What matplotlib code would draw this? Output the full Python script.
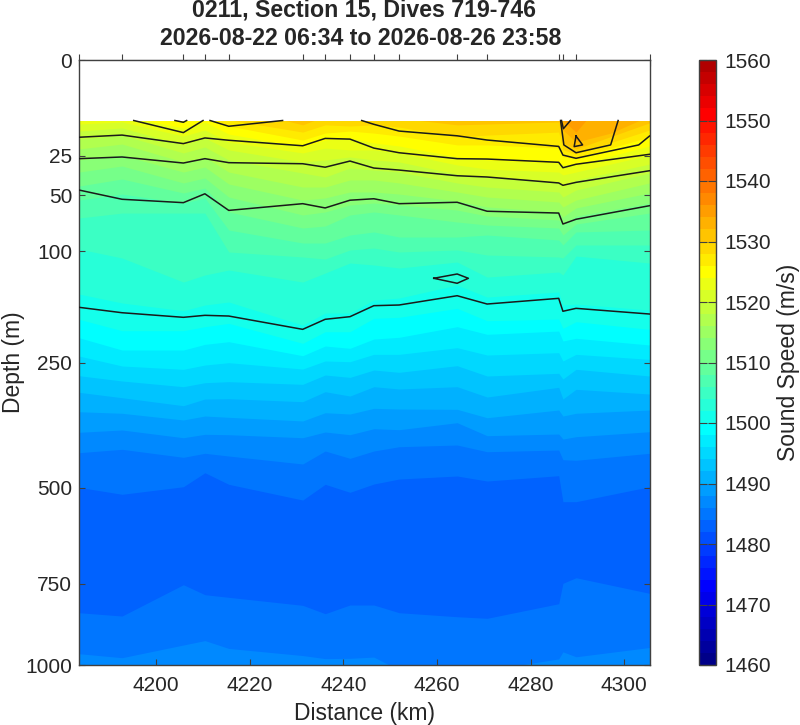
import numpy as np
import matplotlib
matplotlib.use('Agg')
import matplotlib.pyplot as plt
from matplotlib.cm import ScalarMappable
from matplotlib.colors import BoundaryNorm, ListedColormap

plt.rcParams['font.family'] = ['Liberation Sans', 'DejaVu Sans']

# along track position of each dive (km), first and last are the section ends
station_km = [4183.5, 4192.7, 4205.8, 4210.4, 4215.5, 4231.3, 4236.1, 4241.4,
              4246.5, 4251.9, 4264.3, 4270.7, 4286.0, 4286.9, 4289.7, 4305.4]

# depth (m) of each sound speed isoline at every station
iso_1530 = [6.8, 6.8, 6.8, 6.8, 5.8, 11.5, 8.6, 6.8, 6.8, 9.2, 11.5, 11.2, 10.5, 18.8, 21.6, 10.8]
iso_1528 = [6.8, 6.8, 7.4, 8, 9.8, 14.2, 11.5, 11.9, 11.5, 12.3, 16.2, 15.4, 14.2, 22.1, 24.1, 13.4]
iso_1526 = [7.4, 7.4, 8.6, 8.6, 11.9, 17.5, 14.6, 13.8, 14.6, 15.8, 19.7, 19.7, 21.2, 25.7, 26.2, 16.2]
iso_1524 = [8.6, 8.6, 12.6, 10.5, 15, 20.7, 17.5, 16.6, 18.8, 20.2, 25.7, 27.3, 29, 30.1, 30.1, 20.2]
iso_1522 = [11.2, 10.5, 15.8, 13.4, 18.4, 23.6, 21.2, 22.1, 22.1, 23.6, 30.1, 32.5, 34.3, 36.1, 34.3, 24.7]
iso_1520 = [13.8, 12.6, 19.7, 16.6, 22.1, 28.4, 27.3, 25.7, 27.3, 28.4, 35.5, 37.4, 40.7, 44.1, 39.3, 29.6]
iso_1518 = [17.1, 15.4, 23.6, 20.7, 27.3, 34.9, 37.4, 31.9, 33.1, 34.3, 41.3, 44.1, 47.6, 51.3, 46.2, 34.9]
iso_1516 = [21.6, 19.3, 28.4, 25.7, 34.3, 44.1, 44.1, 39.3, 39.3, 41.3, 47.6, 51.3, 55.1, 59, 53.6, 41.3]
iso_1514 = [27.3, 24.7, 34.3, 31.3, 42, 53.6, 52, 47.6, 47.6, 49.1, 54.3, 59, 63.1, 67.3, 59.8, 48.3]
iso_1512 = [34.3, 30.7, 41.3, 38, 51.3, 65.6, 63.1, 57.4, 55.9, 57.4, 61.5, 66.5, 69.9, 74.4, 66.5, 55.9]
iso_1510 = [43.4, 38.7, 48.3, 44.8, 63.1, 77.1, 75.3, 65.6, 63.1, 65.6, 71.7, 74.4, 77.1, 83.7, 73.5, 64]
iso_1508 = [53.6, 49.1, 55.9, 52, 79, 91.5, 91.5, 83.7, 80.8, 85.6, 85.6, 83.7, 88.5, 93.5, 80.8, 79]
iso_1506 = [68.2, 64, 64, 64, 100.7, 106, 108.2, 98.6, 96.6, 100.7, 98.6, 103.9, 106, 107.1, 93.5, 93.5]
iso_1504 = [97.6, 107.1, 134.7, 126.3, 120.5, 134.7, 124, 112.6, 114.8, 118.2, 111.5, 128.7, 122.8, 126.3, 105, 112.6]
iso_1502 = [149.6, 161.3, 171.7, 164, 160, 191.9, 174.9, 174.9, 157.4, 154.8, 138.3, 153.5, 147, 164, 162.7, 170.8]
iso_1500 = [183.7, 200.2, 200.2, 194.3, 189.5, 219.3, 201.7, 201.7, 182.3, 180.9, 168.5, 185.7, 183.3, 196.7, 187.1, 198.2]
iso_1498 = [210.7, 229.8, 229.8, 220.9, 216.8, 238.9, 223.5, 227.1, 212.7, 210.1, 194.3, 205.6, 200.7, 215.7, 211.6, 221.9]
iso_1496 = [239.4, 255.8, 261.4, 254.2, 250.3, 260.9, 247.5, 248.7, 236.7, 236.7, 226.1, 237.8, 234, 247.5, 236.7, 244.8]
iso_1494 = [272.3, 281.5, 291.6, 284.5, 282.7, 287.4, 271.1, 275.2, 262.6, 266.5, 255.3, 272.8, 268.2, 278, 261.4, 272.8]
iso_1492 = [301.7, 311.6, 326.5, 314, 313.4, 319, 300.6, 308.5, 291.6, 295.7, 291.6, 310.3, 292.7, 314, 296.3, 304.8]
iso_1490 = [338, 341, 354, 346.3, 348.8, 356, 339.9, 342.4, 331.5, 332.8, 333.4, 349.6, 334.7, 346.3, 341, 334.7]
iso_1488 = [378.7, 374, 389.8, 382.8, 383.6, 389.8, 378.1, 383.6, 371.4, 373.4, 359.4, 385.6, 382.2, 392.5, 387.7, 377.5]
iso_1486 = [421.3, 414.1, 431.3, 422.6, 428.5, 445.9, 417.7, 433.5, 417.7, 408.6, 405, 419.2, 415.6, 436.5, 437.8, 422.6]
iso_1484 = [498.9, 515.3, 497.5, 465.4, 491.9, 529, 491.9, 510.6, 491.2, 479.7, 472.8, 484.3, 472.1, 533, 533, 497.5]

# speed rises again near the bottom
deep_1484 = [834.6, 844.7, 752.2, 781.1, 788.8, 812.5, 837.6, 811.5, 811.5, 834.6, 846.8, 851.6, 807.7, 748.2, 732.3, 777.1]
deep_1486 = [963, 976, 935, 921, 946, 969, 979, 978, 974, 1017, 1017, 1017, 980, 957, 973, 943]

# warm pocket at the surface near 4290 km
pocket_1532_km = [4286.0, 4286.9, 4289.7, 4297.1, 4303.2]
pocket_1532 = [10, 13.4, 18.4, 14.6, 10]
pocket_1534_km = [4286.9, 4289.7, 4291.8]
pocket_1534 = [10, 14.2, 10]

# black contour lines
line_a = [167.1, 174.5, 180.9, 178.1, 179.1, 198.2, 183.7, 180, 164.9, 164, 151.8, 162.7, 155.2, 172.5, 168.5, 176.3]
line_b = [46.2, 53, 55.6, 48.9, 61.8, 56.4, 59.8, 53.7, 52.6, 56.4, 55.3, 62.5, 64, 73.5, 69.3, 58]
line_c = [26.6, 25.7, 29, 26.6, 28.8, 29.4, 31.4, 27.9, 31.9, 33.1, 36.6, 37.4, 41.3, 42.9, 40.9, 33.5]
line_d = [16.3, 15.4, 19.1, 16.6, 17.6, 20.1, 16.8, 17.1, 21.2, 23.5, 26.6, 26.8, 28.6, 31.7, 29.7, 24.3]
short_lines = [
    ([4195.2, 4205.8, 4210.0], [10, 14.4, 10]),
    ([4211.5, 4215.5, 4227.0], [10, 12, 10]),
    ([4204.0, 4205.8, 4206.5], [10, 10.6, 10]),
    ([4243.9, 4246.5, 4251.9, 4264.3, 4270.7, 4286.0, 4286.9, 4289.7, 4303.1, 4305.4],
     [10, 11.3, 13.8, 15.7, 17.5, 20.4, 24.7, 26.4, 19.7, 15.8]),
    ([4286.4, 4287.1, 4289.7, 4297.1, 4298.7], [10, 19.7, 23.5, 19.7, 10]),
    ([4286.6, 4287.0, 4288.5], [10, 12.9, 10]),
    ([4289.7, 4291.1, 4289.3, 4289.7], [15.8, 19.7, 20.5, 15.8]),
    ([4259.3, 4264.3, 4266.7, 4264.3, 4259.3], [130.2, 125.1, 130.2, 136.2, 130.2]),
]

iso_levels = [1530, 1528, 1526, 1524, 1522, 1520, 1518, 1516, 1514, 1512, 1510, 1508,
              1506, 1504, 1502, 1500, 1498, 1496, 1494, 1492, 1490, 1488, 1486, 1484]
iso_depths = [iso_1530, iso_1528, iso_1526, iso_1524, iso_1522, iso_1520, iso_1518, iso_1516,
              iso_1514, iso_1512, iso_1510, iso_1508, iso_1506, iso_1504, iso_1502, iso_1500,
              iso_1498, iso_1496, iso_1494, iso_1492, iso_1490, iso_1488, iso_1486, iso_1484]

depth_ticks = [0, 25, 50, 100, 250, 500, 750, 1000]
km_ticks = [4200, 4220, 4240, 4260, 4280, 4300]
speed_ticks = list(range(1460, 1561, 10))
top_depth = 10

INK = '#262626'
SPINE = '#404040'


def matlab_jet(m):
    # same table as jet(m) in MATLAB, matplotlib's jet has other break points
    n = int(np.ceil(m / 4))
    u = np.concatenate([np.arange(1, n + 1) / n, np.ones(n - 1), np.arange(n, 0, -1) / n])
    g = int(np.ceil(n / 2)) - (1 if m % 4 == 1 else 0) + np.arange(1, len(u) + 1)
    r = g + n
    b = g - n
    rgb = np.zeros((m, 3))
    rgb[r[r <= m] - 1, 0] = u[r <= m]
    rgb[g[g <= m] - 1, 1] = u[g <= m]
    rgb[b[b >= 1] - 1, 2] = u[b >= 1]
    return rgb


cmap = ListedColormap(matlab_jet(50))
norm = BoundaryNorm(np.arange(1460, 1561, 2), 50)


def band(level):
    # colour of the 2 m/s band that starts at level
    return cmap(norm(level + 1))


fig = plt.figure(figsize=(8, 7.25), dpi=100)
ax = fig.add_axes([79 / 800, 1 - 665 / 725, 570.5 / 800, 605 / 725])
ax.set_yscale('function', functions=(lambda d: np.sqrt(np.maximum(d, 0)), lambda s: s ** 2))
ax.set_xlim(station_km[0], station_km[-1])
ax.set_ylim(1000, 0)

# bands are painted warm to cold, each one reaches down to the bottom
ax.axhspan(top_depth, 1000, color=band(1530), lw=0)
ax.fill_between(pocket_1532_km, top_depth, pocket_1532, color=band(1532), lw=0)
ax.fill_between(pocket_1534_km, top_depth, pocket_1534, color=band(1534), lw=0)
for level, depth in zip(iso_levels, iso_depths):
    ax.fill_between(station_km, depth, 1000, color=band(level - 2), lw=0)
ax.fill_between(station_km, deep_1484, 1000, color=band(1484), lw=0)
ax.fill_between(station_km, deep_1486, 1000, color=band(1486), lw=0)
ax.axhspan(0, top_depth, color='white', lw=0, zorder=2)

for depth in [line_a, line_b, line_c, line_d]:
    ax.plot(station_km, depth, color='#1a1a1a', lw=1.1, zorder=3)
for km, depth in short_lines:
    ax.plot(km, depth, color='#1a1a1a', lw=1.1, zorder=3)

ax.set_xticks(km_ticks)
ax.set_yticks(depth_ticks)
ax.set_yticklabels([str(d) for d in depth_ticks])
ax.tick_params(axis='both', direction='in', length=4.5, width=0.8, color=SPINE,
               labelcolor=INK, labelsize=15, top=True, right=True)
ax.tick_params(axis='x', pad=8)
ax.tick_params(axis='y', pad=5)
for spine in ax.spines.values():
    spine.set_color(SPINE)
    spine.set_linewidth(1)

# dive markers along the top edge
dives = ax.secondary_xaxis('top')
dives.set_xticks(station_km)
dives.set_xticklabels([])
dives.tick_params(direction='inout', length=8, width=0.8, color=SPINE)
dives.spines['top'].set_color(SPINE)

ax.set_xlabel('Distance (km)', fontsize=16.5, color=INK, labelpad=5)
ax.set_ylabel('Depth (m)', fontsize=16.5, color=INK, labelpad=0)

fig.text(364 / 800, 1 - 10.5 / 725, '0211, Section 15, Dives 719-746', ha='center', va='center',
         fontsize=16.7, fontweight='bold', color=INK)
fig.text(360.5 / 800, 1 - 38.5 / 725, '2026-08-22 06:34 to 2026-08-26 23:58', ha='center', va='center',
         fontsize=16.7, fontweight='bold', color=INK)

cax = fig.add_axes([698.5 / 800, 1 - 665 / 725, 17.5 / 800, 605 / 725])
cbar = fig.colorbar(ScalarMappable(norm=norm, cmap=cmap), cax=cax, spacing='proportional')
cbar.set_ticks(speed_ticks)
cbar.minorticks_off()
cax.tick_params(axis='y', direction='in', length=5.5, width=0.8, color=SPINE, labelcolor=INK,
                labelsize=15, left=True, right=True, pad=6)
cbar.outline.set_edgecolor(SPINE)
cbar.outline.set_linewidth(1)
cbar.set_label('Sound Speed (m/s)', fontsize=16.5, color=INK, labelpad=4)

fig.savefig('out.png', dpi=100)
